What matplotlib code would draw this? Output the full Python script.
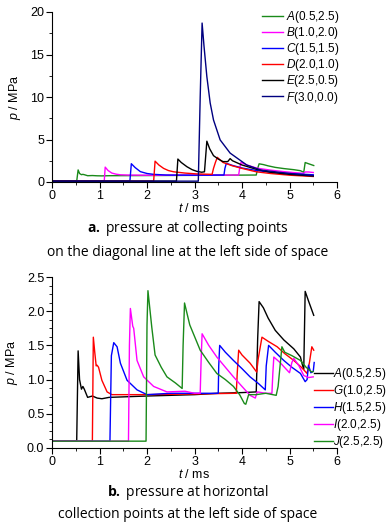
import matplotlib
matplotlib.use("Agg")
import matplotlib.pyplot as plt
from matplotlib.ticker import MultipleLocator

# ---- panel a: diagonal collecting points (t in ms, p in MPa)
A_t = [0, 0.52, 0.55, 0.58, 0.62, 0.65, 0.68, 0.75, 0.85, 0.95, 1.05, 1.2, 1.6, 2.0, 2.5, 3.0,
       3.5, 4.0, 4.3, 4.33, 4.36, 4.45, 4.55, 4.7, 4.88, 5.09, 5.23, 5.27, 5.30, 5.33, 5.40, 5.51]
A_p = [0.1, 0.1, 1.42, 1.0, 0.86, 0.9, 0.86, 0.74, 0.76, 0.73, 0.72, 0.74, 0.75, 0.76, 0.77, 0.78,
       0.8, 0.81, 0.82, 1.6, 2.14, 2.05, 1.9, 1.72, 1.58, 1.45, 1.33, 1.22, 1.15, 2.29, 2.15, 1.94]

B_t = [0, 1.10, 1.12, 1.18, 1.26, 1.35, 1.44, 1.6, 2.0, 3.0, 3.93, 3.95, 3.98, 4.1, 4.32, 4.6,
       4.88, 5.1, 5.3, 5.33, 5.4, 5.5]
B_p = [0.1, 0.1, 1.75, 1.35, 1.05, 0.92, 0.85, 0.82, 0.8, 0.8, 0.82, 1.6, 2.3, 2.0, 1.62, 1.4,
       1.22, 1.1, 1.02, 1.18, 1.18, 1.12]

C_t = [0, 1.64, 1.67, 1.75, 1.86, 2.0, 2.14, 2.4, 3.0, 3.62, 3.64, 3.67, 3.8, 4.0, 4.3, 4.6, 5.0, 5.5]
C_p = [0.1, 0.1, 2.15, 1.7, 1.22, 1.0, 0.9, 0.82, 0.8, 0.82, 1.6, 2.2, 1.95, 1.65, 1.35, 1.15, 1.0, 0.85]

D_t = [0, 2.14, 2.17, 2.25, 2.35, 2.45, 2.56, 2.8, 3.05, 3.37, 3.40, 3.44, 3.48, 3.6, 3.8, 4.0,
       4.3, 4.6, 5.0, 5.5]
D_p = [0.1, 0.1, 2.45, 2.0, 1.6, 1.35, 1.2, 1.05, 0.95, 0.9, 1.6, 2.3, 2.9, 2.3, 1.9, 1.6,
       1.2, 1.0, 0.8, 0.65]

E_t = [0, 2.62, 2.65, 2.72, 2.84, 2.95, 3.05, 3.15, 3.21, 3.26, 3.32, 3.4, 3.5, 3.6, 3.7, 3.75,
       3.8, 4.0, 4.3, 4.6, 5.0, 5.5]
E_p = [0.1, 0.1, 2.7, 2.3, 1.8, 1.45, 1.25, 1.15, 1.2, 4.8, 3.9, 3.1, 2.7, 2.4, 2.4, 2.75,
       2.5, 2.0, 1.5, 1.15, 0.9, 0.7]

F_t = [0, 3.08, 3.12, 3.16, 3.2, 3.26, 3.33, 3.4, 3.54, 3.75, 4.1, 4.4, 5.0, 5.5]
F_p = [0.1, 0.1, 10.0, 18.7, 16.0, 12.4, 9.3, 7.3, 4.95, 3.4, 2.0, 1.4, 1.0, 0.75]

# ---- panel b: horizontal collecting points
G_t = [0, 0.85, 0.87, 0.9, 0.93, 0.95, 0.98, 1.05, 1.16, 1.26, 2.0, 3.0, 3.88, 3.9, 3.93, 4.0,
       4.17, 4.31, 4.34, 4.42, 4.55, 4.74, 4.9, 5.09, 5.25, 5.37, 5.42, 5.47, 5.51]
G_p = [0.1, 0.1, 1.62, 1.4, 1.2, 1.21, 1.18, 0.99, 0.82, 0.78, 0.78, 0.79, 0.8, 1.1, 1.43, 1.36,
       1.24, 1.11, 1.3, 1.62, 1.56, 1.48, 1.38, 1.28, 1.18, 1.09, 1.25, 1.48, 1.43]

H_t = [0, 1.22, 1.25, 1.3, 1.37, 1.44, 1.58, 1.79, 2.0, 2.5, 3.0, 3.5, 3.51, 3.53, 3.65, 3.82,
       4.0, 4.17, 4.35, 4.49, 4.51, 4.56, 4.7, 4.88, 5.05, 5.23, 5.33, 5.37, 5.40, 5.45, 5.5, 5.52]
H_p = [0.1, 0.1, 1.35, 1.54, 1.48, 1.24, 0.99, 0.85, 0.78, 0.8, 0.8, 0.8, 1.2, 1.5, 1.4, 1.28,
       1.16, 1.04, 0.94, 0.85, 1.2, 1.5, 1.4, 1.28, 1.18, 1.09, 0.97, 1.0, 1.21, 1.1, 1.12, 1.25]

I_t = [0, 1.61, 1.63, 1.65, 1.70, 1.72, 1.79, 1.93, 2.14, 2.42, 2.8, 3.0, 3.12, 3.14, 3.16, 3.3,
       3.47, 3.65, 3.82, 4.0, 4.17, 4.28, 4.32, 4.5, 4.63, 4.65, 4.67, 4.8, 5.0, 5.05, 5.09, 5.2,
       5.3, 5.4, 5.5]
I_p = [0.1, 0.1, 1.5, 2.04, 1.78, 1.75, 1.28, 1.04, 0.9, 0.82, 0.83, 0.8, 0.8, 1.3, 1.67, 1.5,
       1.33, 1.18, 1.04, 0.9, 0.77, 0.73, 0.82, 0.8, 0.8, 1.1, 1.33, 1.25, 1.1, 1.25, 1.31, 1.2,
       1.06, 1.03, 1.04]

J_t = [0, 1.98, 2.0, 2.02, 2.1, 2.17, 2.3, 2.42, 2.6, 2.74, 2.76, 2.79, 2.9, 3.12, 3.3, 3.47,
       3.65, 3.82, 3.95, 4.05, 4.08, 4.14, 4.3, 4.5, 4.72, 4.76, 4.84, 4.9, 5.05, 5.23, 5.35,
       5.47, 5.5]
J_p = [0.1, 0.1, 1.8, 2.3, 1.77, 1.36, 1.18, 1.04, 0.95, 0.87, 1.5, 2.12, 1.8, 1.43, 1.25, 1.09,
       1.0, 0.9, 0.78, 0.65, 0.64, 0.78, 0.78, 0.8, 0.77, 0.9, 1.48, 1.4, 1.35, 1.28, 1.18,
       1.11, 1.12]

GREEN = "#1a8a1a"
MAGENTA = "#ff00ff"
BLUE = "#0000ff"
RED = "#ff0000"
BLACK = "#000000"
NAVY = "#000080"

plt.rcParams["font.family"] = ["Liberation Sans", "DejaVu Sans"]
plt.rcParams["mathtext.fontset"] = "custom"
plt.rcParams["mathtext.it"] = "Liberation Sans:italic"
plt.rcParams["mathtext.rm"] = "Liberation Sans"
plt.rcParams["mathtext.bf"] = "Open Sans:bold"

W, H = 387, 527
fig = plt.figure(figsize=(W / 100, H / 100), dpi=100)


def style_axes(ax, ymax, ymajor, yminor, yfmt):
    ax.set_xlim(0, 6)
    ax.set_ylim(0, ymax)
    ax.spines["top"].set_visible(False)
    ax.spines["right"].set_visible(False)
    for s in ("left", "bottom"):
        ax.spines[s].set_linewidth(0.8)
    ax.xaxis.set_major_locator(MultipleLocator(1))
    ax.xaxis.set_minor_locator(MultipleLocator(0.5))
    ax.yaxis.set_major_locator(MultipleLocator(ymajor))
    ax.yaxis.set_minor_locator(MultipleLocator(yminor))
    ax.yaxis.set_major_formatter(plt.FormatStrFormatter(yfmt))
    ax.tick_params(which="major", direction="out", length=4, width=0.8, labelsize=9, pad=1.5)
    ax.tick_params(which="minor", direction="out", length=2, width=0.6)
    ax.set_xlabel("$t$ / ms", fontsize=9, labelpad=0)
    ax.set_ylabel("$p$ / MPa", fontsize=9, labelpad=5)


# top panel
ax1 = fig.add_axes([52 / W, 1 - 182 / H, 285 / W, 170 / H])
series_a = [
    (A_t, A_p, GREEN, "$A$(0.5,2.5)"),
    (B_t, B_p, MAGENTA, "$B$(1.0,2.0)"),
    (C_t, C_p, BLUE, "$C$(1.5,1.5)"),
    (D_t, D_p, RED, "$D$(2.0,1.0)"),
    (E_t, E_p, BLACK, "$E$(2.5,0.5)"),
    (F_t, F_p, NAVY, "$F$(3.0,0.0)"),
]
for t, p, c, lab in series_a:
    ax1.plot(t, p, color=c, lw=1.0, label=lab)
style_axes(ax1, 20, 5, 2.5, "%d")
ax1.legend(loc="upper left", bbox_to_anchor=(262 / W, 1 - 9 / H), bbox_transform=fig.transFigure,
           frameon=False, fontsize=8.5, handlelength=1.8, handletextpad=0.2,
           labelspacing=0.01, borderaxespad=0, borderpad=0)

# bottom panel
ax2 = fig.add_axes([52 / W, 1 - 448 / H, 285 / W, 171 / H])
series_b = [
    (A_t, A_p, BLACK, "$A$(0.5,2.5)"),
    (G_t, G_p, RED, "$G$(1.0,2.5)"),
    (H_t, H_p, BLUE, "$H$(1.5,2.5)"),
    (I_t, I_p, MAGENTA, "$I$(2.0,2.5)"),
    (J_t, J_p, GREEN, "$J$(2.5,2.5)"),
]
for t, p, c, lab in series_b:
    ax2.plot(t, p, color=c, lw=1.0, label=lab)
style_axes(ax2, 2.5, 0.5, 0.125, "%.1f")
ax2.legend(loc="upper left", bbox_to_anchor=(314 / W, 1 - 366 / H), bbox_transform=fig.transFigure,
           frameon=False, fontsize=8.5, handlelength=1.6, handletextpad=0.05,
           labelspacing=0.09, borderaxespad=0, borderpad=0)

# captions
cap = dict(ha="center", va="center", fontsize=10, family=["Open Sans", "DejaVu Sans"])
fig.text(188 / W, 1 - 228 / H, r"$\mathbf{a.}$ pressure at collecting points", **cap)
fig.text(188 / W, 1 - 252 / H, "on the diagonal line at the left side of space", **cap)
fig.text(188 / W, 1 - 493 / H, r"$\mathbf{b.}$ pressure at horizontal", **cap)
fig.text(188 / W, 1 - 515 / H, "collection points at the left side of space", **cap)

fig.savefig("out.png", dpi=100)
